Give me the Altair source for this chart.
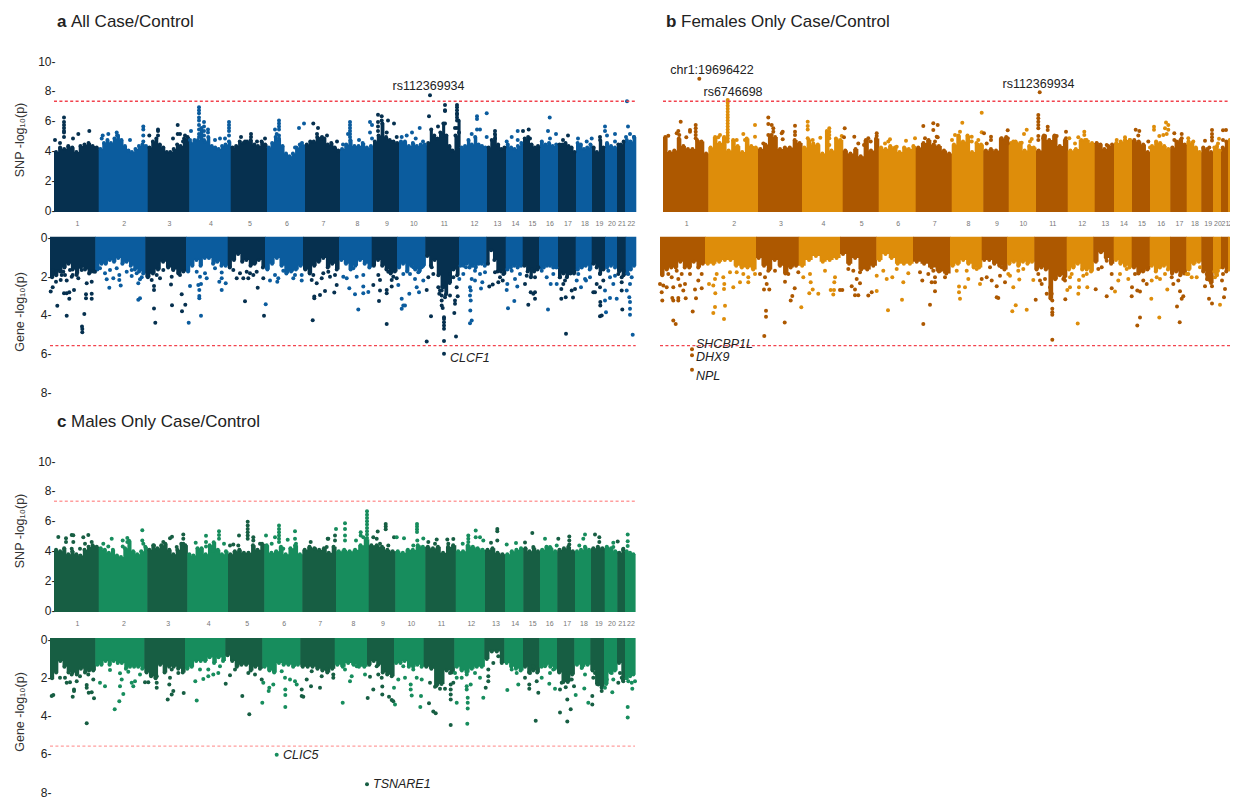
import altair as alt
import numpy as np
import pandas as pd

FONT = "Liberation Sans"
CHROMS = [str(i) for i in range(1, 23)]

# ---------------- chromosome boundaries (cumulative genome position)
A_SNP_BOUNDS = [0,44.7,93.7,135.3,176.7,213,251,286,319,345,372.7,406,433,452,469,486,504,522,538,551,563,571,581.7]
A_GENE_BOUNDS = [0,45.3,95.3,136,177.7,215,253,289,321.7,347,375.3,409,436.3,455.7,472.7,489,508,525.7,541.7,555,567,575.7,585.7]
B_SNP_BOUNDS = [0,45.3,95,139,179.7,215.7,252.7,288.7,320.3,345.7,373,404.7,431.7,451,469,487,507.3,523.7,538.3,550,558,565,572]
B_GENE_BOUNDS = [0,45,96,138.7,180,216.3,253,290,321.7,347,374.3,406.7,433.3,453.7,471.7,489.7,510,526.3,541.3,553,561,568,575]
C_SNP_BOUNDS = [0,44.7,93.3,133.3,174,210.3,248.3,282,314.7,341.3,371.3,401.7,431,451,469.3,486,503.3,521,537,550.7,563.3,571,581]
C_GENE_BOUNDS = [0,45.3,94.3,135,175.3,212.3,250.3,284.7,317,344,373.7,404.3,434.3,454.3,473,489.3,507,524.3,540.3,554,567,575,585]

# ---------------- dense cloud edge per chromosome (-log10 p)
A_SNP_EDGE = [[3.9,4.2,4.1,4.3,4.2,3.9,4.3,4.4,4.5,4.3,4.2],[4.1,4.5,4.7,4.5,4.8,5.0,4.7,4.3,4.0,3.9,4.1,4.3,4.4,4.3],
 [4.2,4.6,4.8,4.4,4.2,3.9,3.9,4.1,4.4,4.3,4.8,4.9],[4.5,4.7,4.7,5.5,4.6,4.9,4.3,4.2,4.1,4.3,4.4,4.6],
 [4.2,4.3,4.6,4.5,4.6,4.7,4.4,4.3,4.6,4.4],[4.2,4.5,4.9,4.7,4.3,3.8,3.6,3.8,4.2,4.4,4.3],
 [4.4,4.6,4.6,4.9,4.8,4.8,4.4,4.5,4.2,4.0],[4.1,4.4,4.7,4.3,4.3,4.5,4.2,4.3],[4.6,5.0,5.8,4.9,4.7,4.6,4.5],
 [4.6,4.6,4.3,4.5,4.3,4.4,4.4],[4.5,5.4,5.0,4.8,5.2,5.8,5.0,4.3,4.0,5.0,6.0],[4.2,4.3,4.7,4.4,4.9,4.4,4.3,4.2],
 [4.2,4.7,5.1,4.4,4.1,4.2],[4.4,4.2,4.1,4.3,4.5],[4.8,4.9,4.4,4.2,4.2],[4.6,4.4,4.5,4.3,4.4],[4.4,4.4,4.5,4.3,4.2,3.9],
 [4.5,4.4,4.1,4.2,4.4],[4.2,3.9,4.7,4.2],[4.5,4.3,4.2],[4.4,4.4,4.6],[4.7,4.6,4.9]]
A_GENE_EDGE = [[2.05,1.95,1.75,1.55,1.35,1.65,1.85,1.55,1.65,1.85,1.75],[1.65,1.35,1.35,1.15,1.25,1.05,1.35,1.25,1.45,1.65,1.75,1.85],
 [2.05,1.85,1.65,1.25,1.55,1.65,1.85,1.75],[1.75,1.45,1.15,1.45,1.05,1.05,1.35,1.25,1.45,1.45],[1.55,1.15,0.85,1.25,1.15,1.45,1.35,1.15,1.55],
 [1.65,1.35,1.05,1.45,1.85,1.75,1.65,1.45],[1.65,1.85,1.45,1.25,1.05,1.55,1.35,1.65],[1.15,1.35,1.65,1.45,1.15,1.35,1.55],[1.45,1.15,1.45,1.65,1.85,1.75],
 [1.55,1.35,1.75,1.45,1.65,1.75,1.45],[0.95,1.45,1.15,1.95,2.55,2.95,2.35,1.65,1.95],[1.45,1.45,1.35,1.55,1.45,1.55,1.35,1.35,1.45],
 [1.35,0.65,1.15,1.75,1.75,1.85],[1.65,1.55,1.45,1.55,1.45],[1.45,1.75,2.05,1.75,1.65],[1.55,1.55,1.45,1.45,1.55,1.55],[2.05,1.85,2.05,1.85,1.85],
 [1.65,1.55,1.45,1.65],[1.35,1.55,1.85,1.65],[1.55,1.45,1.55],[1.75,1.95],[1.85,1.65,1.45]]
B_SNP_EDGE = [[4.9,3.9,4.0,4.8,4.3,4.1,4.1,4.7,4.6,3.8],[4.2,4.9,4.5,4.9,4.0,4.7,4.3,3.9,4.8,4.3,4.2],
 [4.1,4.4,5.0,4.9,4.1,4.2,4.2,4.7,4.5],[4.2,4.7,4.4,4.4,3.8,5.3,4.0,4.8,4.7],[4.0,3.8,4.1,3.6,4.7,4.0,4.8],
 [4.2,4.1,4.3,4.2,3.9,4.2,4.1,4.3],[4.2,4.5,4.7,4.4,4.3,4.0,3.8],[4.4,5.0,4.6,5.0,3.9,4.5,4.4],[4.0,4.1,4.0,4.8,4.9],
 [4.5,4.6,4.5,4.0,4.3,4.2],[4.0,5.0,4.7,5.0,4.3,4.7],[4.0,4.1,4.7,4.7,4.5],[4.5,4.4,4.1,4.3,4.4],[4.5,4.6,4.7,4.7],
 [4.7,4.6,4.4,3.9],[4.3,4.6,4.5,4.3,4.1],[4.2,4.6,4.7,4.4],[4.6,4.5,4.2,3.9],[4.2,4.1,3.9],[4.2,4.3,4.0],[4.2,4.6],[4.7,4.7]]
B_GENE_EDGE = [[1.95,1.65,1.55,1.55,1.25,1.55,1.55,1.25,1.55,1.35],[1.35,1.35,1.25,1.15,1.15,1.45,1.55,1.55,1.65],[1.05,1.45,1.65,1.15,1.45,1.85,1.55,1.45],
 [1.45,1.15,0.95,1.25,1.15,1.05],[0.85,1.35,1.05,1.65,1.65,1.45],[1.15,0.85,1.05,1.35,1.35,1.35],[1.25,1.35,1.55,1.75,1.85],[1.45,1.35,1.15,1.35,1.55,1.55],
 [1.15,1.15,1.35,1.45,1.65],[1.35,1.25,1.45,1.25,1.35,1.25],[1.65,1.55,1.65,3.15,2.15,1.95,2.05],[1.65,1.55,1.35,1.65,1.65,1.75],[1.25,0.75,1.05,1.35],
 [1.15,1.35,1.45,1.55],[1.55,1.85,1.75,1.65],[1.45,1.75,1.55,1.45,1.65],[1.85,1.75,1.95,1.85],[1.65,1.35,1.25],[1.75,2.15,2.35],[1.75,1.95,1.55],[1.55,1.75],[1.65,1.65]]
C_SNP_EDGE = [[4.05,3.95,4.15,3.75,3.95,3.75,3.65,4.05,4.25,4.35,4.25],[4.15,4.05,3.85,4.05,3.65,3.55,4.15,4.65,3.95,3.75,3.95,4.25],
 [4.05,4.35,4.15,4.35,4.45,4.05,3.75,4.05,4.45,4.35],[3.75,3.65,4.15,4.15,3.75,4.35,4.55,4.05,3.75,3.95],[3.75,3.95,4.05,3.85,3.85,4.35,4.05,4.45],
 [4.35,3.85,3.95,4.25,3.75,4.15,4.35,3.75],[4.05,4.25,4.15,4.05,4.15,3.85,4.25],[3.95,4.05,3.95,4.05,4.35,4.75],[4.35,4.35,4.25,4.05,3.95],
 [3.95,3.85,4.05,4.05,4.35,4.25],[4.25,4.15,4.25,3.85,4.25,4.35],[3.95,3.95,4.35,4.25,4.15,4.05],[4.05,4.15,3.85,3.75],[3.75,3.95,4.05,4.15],
 [4.15,3.95,4.15,3.95],[4.05,4.25,4.15,3.95],[4.05,4.15,4.25,3.95],[3.95,4.05,4.25,4.05],[4.15,4.25,4.15],[4.25,4.15,3.95],[3.85,4.05],[3.95,3.85,3.75]]
C_GENE_EDGE = [[2.05,1.75,1.15,1.45,1.75,1.75,1.85,1.55,1.75,1.65,1.65],[1.35,1.35,1.15,1.35,1.15,1.25,1.25,1.55,1.45,1.45,1.45,1.55],
 [1.75,1.95,2.05,1.35,1.75,1.45,1.45,1.55,1.75],[1.55,1.45,1.15,1.15,1.15,0.95,1.25,0.95,1.15],[0.85,1.15,1.45,1.35,1.35,1.65,1.45,1.55],
 [1.45,1.65,1.75,1.25,1.35,1.35,1.45,1.35],[1.45,1.45,1.45,1.55,1.65,1.75,1.55],[1.35,1.45,1.25,1.35,1.45,1.45],[1.35,1.15,1.35,1.75,1.85,1.95],
 [1.25,1.25,1.15,1.45,1.45,1.35,1.45],[1.45,1.55,2.45,2.35,1.65,1.75],[1.45,1.65,1.75,1.55,1.45,1.45],[1.05,0.65,0.65,1.25],[1.25,1.45,1.55,1.65],
 [1.45,1.75,1.65,1.75],[1.45,1.35,1.45,1.55],[1.75,2.25,2.25,1.85],[1.35,1.45,1.35],[1.65,2.35,2.55],[2.35,1.75,1.65],[1.25,2.15],[2.05,1.95,1.85]]

# ---------------- individual variants / genes (position, -log10 p)
A_SNP_PTS = [(10,6.2),(10,5.9),(10,5.7),(10,5.5),(10,5.3),(10,5.2),(6,4.5),(1,4.7),(19,4.8),(24.3,5.1),(35.3,5.3),(10,4.9),
 (47.7,4.8),(48.7,5.0),(54.3,5.1),(62.7,5.2),(63,5.0),(76,4.7),(89.3,5.6),(89.3,5.4),(89.3,5.0),(89.3,4.6),(95.3,5.0),(52,4.4),
 (104,5.4),(104,5.3),(104,5.0),(123.7,5.7),(123.7,5.1),(126,5.1),(137,5.3),(119,4.8),(129,4.6),(131,5.0),(136,4.7),
 (145,6.9),(145,6.7),(145,6.5),(145,6.2),(145,6.0),(145,5.7),(145,5.4),(145,5.1),(145,4.9),(150,5.9),(150,5.6),(150,5.3),(150,5.0),(150,4.7),
 (154,5.4),(154,5.2),(166,4.8),(161,4.7),(175,5.9),(175,5.7),(175,5.5),(175,5.3),(175,5.0),(171,4.8),
 (187,4.9),(197,5.1),(197,4.9),(191,4.6),(211,4.8),(203,4.6),
 (225,6.0),(225,5.8),(225,5.6),(225,5.4),(221,5.4),(222.7,5.1),(225,5.0),(225,4.8),
 (245,5.5),(250,5.8),(259.3,5.8),(264,5.5),(263,5.1),(268,4.9),(273,5.0),(283,4.6),(241,4.2),(248,4.5),
 (296,5.9),(296,5.7),(296,5.5),(296,5.3),(296,5.1),(296,4.9),(294,5.1),(305,4.7),(289,4.4),
 (324,6.4),(327.7,6.3),(327.7,6.0),(324,5.9),(324,5.6),(324,5.3),(316,5.9),(318,5.7),(316,5.2),(334,6.0),(340,5.8),(332.7,5.2),(342.7,4.9),(318,4.8),
 (361.7,4.8),(352.7,5.0),(358,5.2),(365.7,5.5),(347.7,4.9),(369,4.6),
 (375,6.3),(391,7.05),(391,6.7),(391,6.65),(376,7.7),(391,5.8),(384,5.6),(387.7,5.0),(403,7.05),(403,6.9),(403,6.7),(403,6.5),(403,6.4),(403,6.2),(403,6.0),(403,5.5),(401,5.5),(405,5.2),
 (423,6.3),(423,6.1),(432.7,6.5),(423,5.4),(426,5.4),(417.7,5.1),(432.7,4.9),
 (441,5.3),(441,4.8),(452.7,4.6),(463.7,5.3),(457.7,4.9),(463.7,4.7),
 (474.7,5.4),(469,5.3),(476,4.8),(484,4.3),(495.7,6.2),(494,5.3),(496,4.8),(502,5.1),
 (514,5.0),(509,4.7),(524,4.8),(532.7,4.6),(551,5.6),(537.7,4.8),(546,4.9),(551,5.3),(553,5.0),
 (561,5.1),(561,4.6),(573,7.3),(574,5.6),(576,5.1),(572,4.9),(580,4.9)]
A_GENE_PTS = [(2.7,2.57),(0.7,2.79),(7.3,3.53),(16.7,4.05),(34.3,3.95),(32,4.6),(32.3,4.74),(32.3,4.9),(36,2.93),(36,3.14),(41.7,2.91),(41.7,3.16),
 (14,2.88),(16.7,2.88),(19.3,2.83),(24,2.71),(19.3,3.17),(6,2.28),(10.7,2.19),(15,1.93),(21.7,2.02),(28.3,2.1),(36.7,2.36),(41.7,2.28),(45,1.76),
 (20,1.67),(13.3,1.76),(6.7,1.76),(3.3,1.67),(26.7,1.93),(31.7,1.67),(40,1.76),(11.7,1.93),(16.7,2.22),(22.7,1.93),
 (59.3,2.6),(70.7,2.48),(88.3,3.22),(90,3.14),(55,1.84),(56.7,2.16),(63.3,2.1),(69.3,2.19),(69.3,1.93),(81.7,1.98),(88.3,2.36),(91.7,2.05),(90,2.16),(76.7,1.76),(66.7,1.59),(60,1.67),(86.7,1.84),(81.7,1.67),(50,1.59),
 (101.7,2.19),(104,2.5),(104,2.71),(104,3.67),(105.3,4.41),(121,2.43),(122,3.5),(131.7,2.93),(135.3,3.47),(132,3.81),(121.7,2.02),(113.3,1.67),(106.7,1.93),(123.3,1.67),(130,1.93),(110,2.1),(100,1.76),
 (138.7,4.41),(151,4.05),(140,2.5),(149.3,2.71),(149.3,3.02),(148.3,2.45),(151,2.4),(149.3,3.14),(171.7,2.71),(169.3,2.28),(171.7,2.1),(175.7,2.36),(171.7,1.81),(156.7,2.1),(155,1.84),(150,2.02),(146.7,1.76),(165,1.59),
 (195,3.29),(214,4.05),(215.7,3.45),(207.7,2.59),(186.7,2.1),(193.3,2.1),(198.3,2.1),(190,1.84),(200,1.84),(213.3,2.1),(206.7,1.76),(183.3,1.67),(196.7,1.76),(203.3,1.93),
 (220,2.22),(227.3,2.28),(228.3,2.1),(233.3,1.71),(243.3,2.1),(245,1.93),(251.7,2.22),(251.7,1.93),(225,1.93),
 (262.7,4.28),(264.3,3.05),(264.3,3.14),(270,2.97),(275,2.76),(284.3,2.84),(286.7,2.45),(261.7,2.19),(266.7,2.36),(271.7,2.1),(280,2.02),(285,1.93),(263.3,1.93),(273.3,1.84),(278.3,1.76),
 (308.3,3.72),(305,2.93),(299.3,2.62),(313.3,2.88),(313.3,2.53),(318.3,2.81),(323.3,2.45),(306.7,2.02),(296.7,2.1),(293.3,2.02),(313.3,1.93),(303.3,1.59),
 (336.7,4.48),(329,3.28),(330,2.74),(336.7,2.88),(336.7,2.71),(330,2.19),(328.3,1.93),(341.7,2.19),(348.3,2.45),(343.3,2.02),(338.3,1.76),(346.7,2.1),(341.7,2.53),
 (351.7,3.17),(355,3.52),(351.7,3.69),(353.3,3.52),(359.3,2.91),(369,2.83),(366.7,2.57),(365,2.14),(368.3,1.79),(373.3,2.22),(360,1.88),(353.3,1.88),(371.7,1.53),(363.3,1.53),
 (394,5.36),(394,4.72),(394,4.55),(394,4.38),(394,4.21),(394,4.12),(381,4.07),(376.7,5.38),(406,5.12),(394,6.02),(404.3,3.91),(392.7,3.64),(391.7,3.52),(391.7,3.26),(391.7,3.0),(391.7,2.74),(393.3,2.57),(390,2.74),(395,3.09),(400,3.0),(407.7,3.03),(405,3.26),(405,3.43),(376.7,2.71),(378.3,2.05),(383.3,1.88),(381.7,1.53),(403.3,2.05),(400,1.88),(409.3,2.14),(406.7,2.57),(388.3,2.57),(389.3,2.91),(393.3,2.33),
 (420.3,3.78),(421.7,4.29),(420,4.43),(420.7,3.26),(420,3.0),(420.7,2.74),(420,2.57),(431,2.64),(425,2.22),(432.3,2.31),(413.3,1.88),(421.7,2.14),(430,1.88),(416,1.53),(425,1.71),(435,1.79),
 (439.3,2.53),(442.7,2.43),(448.3,2.31),(456.7,2.71),(452.7,2.22),(457.3,2.4),(450,2.05),(453.3,1.88),(445,1.79),
 (458,3.66),(464.3,3.28),(467.3,2.53),(465,2.14),(461.7,1.71),(470,1.88),
 (478.3,3.47),(485,3.17),(483.3,2.91),(480.7,2.83),(485,2.83),(475,2.4),(485,2.05),(476.7,1.97),(481.7,1.62),(488.3,1.53),
 (498,3.72),(500.7,2.4),(506.7,2.4),(496.7,2.05),(503.3,1.88),(491.7,1.71),
 (516,4.98),(511.3,3.17),(515.7,3.09),(523,3.1),(511.3,2.66),(513.3,2.4),(521.7,2.74),(525,2.66),(515,2.22),(510,2.05),
 (531,2.57),(536,2.22),(535,2.14),(540,2.05),(528.3,1.88),(526.7,2.22),
 (550,4.07),(551.7,4.03),(556,3.86),(550.3,3.34),(550.3,3.52),(555,3.26),(545,2.83),(550,2.57),(555,2.74),(546.7,2.4),(553.3,2.22),(550,1.88),(543.3,2.83),
 (566.7,3.17),(560,3.12),(563.3,2.4),(560,2.05),(558.3,1.71),(565,1.97),
 (572.3,3.72),(571.7,2.74),(571.7,2.31),(571.7,2.05),(573.3,1.71),(568.3,1.88),
 (582.7,5.03),(580,4.0),(580,3.69),(580,3.34),(579.3,3.09),(576.7,2.74),(580,2.4),(581.7,2.05),(578.3,1.88)]
B_SNP_PTS = [(36.3,8.81),(17.7,5.93),(5.3,4.99),(15.3,5.3),(16.3,5.03),(23.3,4.88),(27,5.37),(27,5.26),(32.7,5.7),(32.7,5.48),(32.7,5.26),(32.7,5.03),(32.7,4.81),(13.7,5.15),
 (64.7,7.38),(64.7,7.2),(64.7,7.0),(64.7,6.8),(64.7,6.6),(64.7,6.4),(64.7,6.2),(64.7,6.0),(64.7,5.8),(64.7,5.6),(64.7,5.4),(64.7,5.2),(64.7,5.0),(64.7,4.8),(64.7,4.6),
 (92,5.7),(80.3,5.1),(82,4.7),(73.7,4.7),(57,5.03),(55.3,4.88),(52,4.59),(92,4.92),
 (105.3,6.2),(105.3,5.77),(108.7,5.7),(110.3,5.48),(110.3,5.26),(108.7,5.03),(119.7,5.26),(118.7,5.15),(119.7,4.74),(132,5.66),(132,5.26),(132,5.03),(105.3,5.03),(100.3,4.47),
 (144.7,5.93),(144.7,5.64),(144.7,5.41),(144.7,4.81),(149.7,4.7),(150.3,4.47),(157.3,4.85),(166.3,5.48),(166.3,5.26),(166.3,5.03),(166.3,4.81),(166.3,4.36),
 (178.7,4.97),(181.7,5.48),(181,4.88),(191.3,4.92),(205.3,4.81),(207.7,4.59),(213.7,5.15),(213.7,4.97),(213.7,4.47),(195.3,4.47),(201,4.36),
 (227,4.74),(225.3,4.59),(233.7,4.25),(243,4.65),(252,4.81),(222,4.47),
 (260.3,5.64),(270.3,5.82),(270.3,5.37),(274.7,5.7),(274.7,4.88),(262,4.81),(273.7,4.92),(272,4.59),
 (299.3,5.86),(318.7,6.53),(318.7,5.21),(321,5.15),(289,4.7),(292,5.03),(297,5.26),(308.7,4.92),(308.7,4.59),(315.3,4.7),
 (328,4.92),(328,4.7),(344.7,5.35),(344.7,4.81),(344.7,4.47),(338.7,4.81),(323.7,4.47),
 (363.7,5.39),(361,5.1),(368.7,4.77),(367,4.59),(358.7,4.52),(350.3,4.59),
 (376.7,7.9),(375.3,6.38),(375.3,6.15),(375.3,5.93),(375.3,5.7),(375.3,5.48),(375.3,4.97),(375.3,4.7),(384.7,5.59),(384.7,5.37),(382,4.97),(393.7,4.97),(403,5.26),(403,4.81),(380.3,4.81),(392,4.7),
 (421.3,5.26),(421.3,5.03),(415.3,4.88),(406.3,4.81),(412,4.47),(422,4.7),
 (433.7,4.47),(443.7,4.36),(435.3,4.25),(453.7,4.7),(462,4.88),(462,4.7),(467,4.7),
 (472.7,5.39),(476.3,5.3),(475.3,5.0),(485.3,4.59),(487,4.2),
 (491,5.59),(491,5.39),(503,5.88),(505.3,5.7),(502,5.48),(505.3,5.39),(500.3,5.03),(496.3,4.97),(503.7,5.1),
 (511.3,5.15),(518.7,5.1),(518.7,4.81),(511.3,4.7),(517,4.59),(525.3,4.81),(530.3,4.59),(525.3,4.47),
 (549,5.37),(549,5.1),(549,4.88),(549,4.66),(542,4.64),(546.3,4.2),(556,4.79),(555,4.47),(560,5.35),(563,5.37),(560,4.7)]
B_GENE_PTS = [(32,5.79),(32,6.1),(32,6.84),
 (13.3,4.29),(15.7,4.47),(32.7,3.83),(2.3,3.26),(12.3,3.12),(13.3,3.26),(18.3,3.12),(18.3,3.26),(25.7,3.14),(36,3.14),(35,2.69),(41.7,2.62),(3.3,2.48),(1.7,2.83),(6.7,2.57),(13.3,2.57),(18.3,2.14),(20,2.48),(25,2.4),(23.3,2.74),(8.3,1.88),(11.7,2.05),(16.7,1.71),(21.7,1.88),(30,1.88),(41.7,1.88),(38.3,2.22),(0,2.4),
 (55,3.59),(53.3,3.91),(65,3.53),(64,4.22),(55.3,2.88),(73.3,2.57),(64,2.66),(64.3,2.4),(53.3,2.48),(49,2.4),(80,2.31),(88.3,2.31),(88.3,2.05),(56.7,1.88),(63.3,2.05),(70,1.79),(83.3,1.88),(95,1.88),(55,2.14),(76.7,1.79),
 (104.3,5.1),(106,3.79),(106,4.1),(104,2.69),(109.3,2.69),(124.7,4.4),(130.7,3.26),(132.3,3.02),(134.7,2.62),(125,2.28),(106.7,2.4),(105,2.05),(108.3,1.71),(115,1.71),(128.3,1.88),(100,1.88),
 (141.3,3.6),(149.3,2.88),(152.7,2.69),(158.3,2.91),(150.7,2.31),(174.3,2.31),(170.7,2.71),(174,2.71),(173.3,2.95),(180,2.71),(182.3,2.71),(143.3,2.05),(138.3,1.79),(150,1.88),(165,1.71),(175,2.05),
 (191.7,2.52),(195,2.69),(195,2.98),(198.3,2.98),(200,2.36),(200,1.79),(193.3,1.71),(208.3,3.0),(211.7,2.83),(216.7,2.76),(216.7,1.97),(188.3,1.62),(196.7,2.14),
 (228,3.76),(242,3.22),(243.3,2.31),(232.3,2.05),(226.7,2.14),(236.7,1.62),(248.3,1.84),(223.3,1.71),
 (263.3,4.48),(270,3.47),(275,2.78),(262.3,2.22),(275,2.31),(268.3,1.88),(260,1.79),(273.3,1.71),(271.7,2.31),(275,2.05),(285,2.05),(280,1.71),
 (300,3.17),(299,2.83),(305,2.57),(299,2.53),(308.3,2.14),(320,2.4),(321.7,2.14),(306.7,1.71),(316.7,1.62),(296.7,1.71),
 (336.7,3.09),(338.3,3.12),(336.7,2.52),(326.7,2.05),(331.7,2.22),(340,1.97),(348.3,1.88),(345,2.31),(330,1.53),(341.7,1.53),
 (352.3,3.81),(355.7,3.5),(366.7,3.74),(359.3,2.17),(353.3,2.57),(350,1.97),(358.3,1.71),(363.3,1.62),(373.3,2.19),(375.7,3.22),
 (392.3,5.29),(392.3,4.0),(392.3,3.86),(392.3,3.69),(392.3,3.26),(386.7,2.91),(391.7,2.91),(380,2.22),(381.7,2.4),(378.3,1.88),(385,2.14),(390,2.57),(405.3,3.19),(403.3,2.14),(405,2.22),
 (417.7,4.45),(407.3,2.71),(410,2.57),(419,2.19),(419,2.57),(427.3,2.57),(418.3,2.91),(411.7,1.88),(423.3,1.97),(426.7,1.88),(410,2.05),
 (435.7,2.67),(446.7,3.03),(451.7,2.62),(455,2.79),(441.7,1.53),(446.7,1.19),(451.7,1.88),(438.3,1.62),
 (471.7,3.03),(472,2.57),(458.3,2.22),(468.3,2.14),(460,1.88),(466.7,1.62),
 (477.3,4.55),(480,4.14),(477.3,2.74),(480,2.79),(483.3,2.22),(475,1.88),(486.7,2.4),(483.3,1.71),
 (491.3,3.17),(499.3,4.14),(507.3,2.69),(500,2.14),(491.7,2.22),(505,1.88),(496.7,2.05),
 (519.7,4.38),(517,3.57),(520,2.78),(523.3,3.03),(521.7,3.17),(513.3,2.4),(518.3,2.22),(526.7,1.88),(511.7,2.05),
 (536.7,2.05),(531.7,2.05),(528.3,1.88),(540,1.53),
 (549,3.17),(552,3.41),(545,2.52),(552,2.52),(550,2.22),(546.7,1.88),(552,2.05),
 (560,3.47),(555,2.05),(558,1.71),(556,1.88),(564,3.09),(565,2.66),(562,2.22),(563,1.88)]
C_SNP_PTS = [(4.3,4.9),(12,4.82),(12,4.56),(17.7,5.04),(19.3,5.02),(29.3,4.89),(34.3,5.04),(19.3,4.56),(17.7,4.11),(31,4.44),(26,4.11),(37.7,4.56),
 (57.7,4.78),(73.3,4.84),(73.3,4.56),(68.7,4.67),(68.7,4.27),(88.3,5.36),(88.3,4.67),(89.3,4.44),(49.3,4.44),(54.3,4.27),
 (118,4.91),(116,4.82),(129.3,5.07),(129.3,4.78),(129.3,4.44),(100,4.33),(109.3,4.56),(122.7,4.22),
 (141.7,4.51),(152,4.98),(152,4.56),(152,4.27),(165,5.29),(165,5.04),(165,4.78),(170,4.44),(159.3,4.0),
 (193.7,5.93),(193.7,5.67),(193.7,5.44),(193.7,5.22),(193.7,5.0),(193.7,4.78),(185,5.0),(179.3,4.4),(176,4.33),(199.3,4.89),(199.3,4.67),(184.3,4.33),(206,4.44),
 (225,5.67),(225,5.44),(225,5.22),(225,5.0),(225,4.78),(225,4.56),(212,5.0),(221,4.89),(233.7,4.71),(241,5.29),(241,4.78),(242,4.44),(217.7,4.44),(229.3,4.11),
 (256.7,4.56),(273.7,4.78),(261,4.11),(282,5.44),(281,5.0),(274.3,4.78),(281,4.67),(272.7,4.22),
 (291,5.82),(291,5.44),(291,5.0),(291,4.67),(302,4.67),(306.7,5.22),(306.7,5.0),(313,6.62),(313,6.4),(313,6.18),(313,5.96),(313,5.73),(313,5.51),(313,5.29),(313,5.07),(313,4.84),(309.3,4.89),
 (331.7,5.78),(331.7,5.6),(331.7,5.42),(323.7,5.27),(319.3,4.89),(322.7,4.78),(340,4.89),(342.7,4.89),(334.3,4.33),(326,4.44),
 (363,5.78),(363,5.6),(363,5.42),(363,5.24),(350,4.82),(369.3,4.8),(363.3,4.67),(359.3,4.33),
 (382.7,4.73),(374.3,4.56),(393.3,4.73),(399.3,4.76),(381,4.44),(394.3,4.44),
 (421.7,5.33),(414.3,5.0),(414.3,4.78),(414.3,4.56),(426,4.89),(408.7,4.44),(429.3,4.67),(421.7,4.89),
 (443.3,5.44),(443.3,5.29),(443.3,4.67),(437,4.51),(452.7,4.4),(462,4.49),
 (478.3,5.16),(471,4.53),(479.3,4.22),(491,4.78),(496,4.22),
 (504.3,4.78),(502.7,4.33),(515.3,4.93),(515.3,4.67),(515.3,4.4),(531,5.07),(529.3,4.78),(525.3,4.33),
 (541,5.07),(545.3,4.89),(545.3,4.56),(559.3,4.51),(563.7,4.6),(559.3,4.22),(573.7,5.07),(573.7,4.62),(573.7,4.29),(569.3,4.11)]
C_GENE_PTS = [(226.7,6.05),(317,7.6),(3.3,2.93),(1.7,2.98),(22.7,3.02),(24,2.64),(24,2.72),(36.7,2.41),(36.7,2.55),(38.7,2.81),(41.7,2.78),(44,3.1),(36.7,4.41),(16.7,2.29),(20,2.26),(26.7,2.21),(30,1.95),(43.3,2.12),(10,2.03),(15,2.03),(21.7,1.86),(38.3,1.86),
 (64.7,3.67),(69.3,3.26),(73.3,2.88),(70,2.47),(55,2.47),(50,2.29),(71.7,2.12),(81.7,2.29),(85,2.21),(83.3,2.47),(95,2.26),(98.3,2.26),(90,1.86),(70,1.79),(78.3,1.71),(60,1.62),
 (106.7,2.55),(106.7,2.29),(117.7,3.16),(121.7,2.9),(123.3,2.72),(119.3,2.38),(120,2.03),(133.7,2.83),(106.7,1.95),(128.3,1.78),(131.7,1.43),(121.7,1.6),
 (146.7,3.21),(145.3,2.21),(175.7,2.34),(153.3,2.09),(158.3,1.95),(163.3,1.86),(168.3,1.78),(150,1.6),(158.3,1.6),(170,1.43),
 (192.3,2.98),(199.3,3.93),(212.3,3.33),(205,1.86),(198.3,1.78),(185,1.6),(191.7,1.26),(180,1.9),
 (235.3,3.55),(235.3,2.93),(235.3,2.64),(218.7,2.72),(219.3,2.55),(223.3,2.38),(211.7,2.12),(213.3,2.29),(240,2.12),(235,2.03),(245,2.21),(246.7,2.38),(231.7,1.69),
 (251.7,2.98),(253.3,3.02),(261,2.47),(270,2.55),(251.7,2.64),(256.7,2.12),(271.7,1.95),(261.7,1.69),(283.3,2.03),(283.3,1.86),(276.7,1.6),
 (292.7,3.33),(300,2.21),(301.7,1.95),(317.7,3.09),(315,1.86),(295,1.6),(306.7,1.43),(311.7,1.26),
 (323.3,2.64),(332.3,2.48),(332.3,2.9),(339,3.02),(341.7,3.19),(343.3,3.26),(345,3.43),(344,2.55),(328.3,1.86),(331.7,2.03),(320,1.98),(326.7,1.43),(333.3,1.6),(338.3,1.78),
 (361.7,2.95),(371,2.98),(370.3,3.55),(360.7,2.38),(360.7,2.64),(355,2.03),(348.3,2.12),(366.7,2.03),(371.7,2.12),(353.3,1.43),(363.3,1.6),
 (379,3.36),(383.3,3.79),(385.7,3.88),(400.7,4.5),(400.7,3.16),(400.7,2.9),(400.7,2.64),(400.7,2.38),(395,2.6),(390,2.6),(385,2.5),(380,2.29),(403.3,2.29),(405,1.78),(400,1.78),
 (417.3,4.43),(417.7,3.64),(417.7,3.33),(417.7,3.07),(416.7,2.64),(416.7,2.47),(406.7,3.33),(433.3,3.07),(435.7,2.55),(420.7,2.38),(406.7,2.03),(416.7,1.86),(430,2.03),(411.7,2.03),(425,1.78),
 (438.3,2.21),(438.3,1.95),(448.3,0.9),(438.3,1.6),(443.3,1.26),(457.3,2.67),(468.3,2.38),(461.7,1.6),(466.7,1.78),
 (485.7,4.28),(479.3,2.6),(479.3,2.38),(488.3,2.81),(475,2.03),(486.7,2.21),(480,1.78),(483.3,1.43),
 (499.3,2.34),(491.7,2.03),(500,1.78),(503.3,1.6),(495,1.43),
 (517.3,4.31),(510,3.84),(520.7,3.67),(517.3,3.16),(525.7,2.93),(515.7,2.52),(510,2.64),(505,2.6),(524,2.47),(511.7,2.29),(521.7,2.12),(518.3,1.78),
 (538.3,3.33),(542.3,3.43),(542.3,2.98),(534.3,2.59),(535,1.86),(531.7,1.52),
 (551.7,2.72),(555,2.55),(543.3,2.03),(548.3,2.38),(556.7,2.12),(545,1.78),
 (562.3,2.78),(563.3,2.12),(568.3,2.29),(561.7,1.78),(571.7,2.03),(570,1.78),(573.3,2.21),
 (577.7,4.1),(577.7,3.55),(582.3,2.6),(578.3,2.21),(581.7,2.29),(585,2.21)]

# ---------------- labelled hits (position, -log10 p, text)
A_SNP_NOTES = [(374.5,8.32,"rs112369934")]
A_GENE_NOTES = [(400,6.25,"CLCF1")]
B_SNP_NOTES = [(49,9.4,"chr1:19696422"),(70,7.92,"rs6746698"),(375.5,8.45,"rs112369934")]
B_GENE_NOTES = [(36,5.5,"SHCBP1L"),(36,6.18,"DHX9"),(36,7.16,"NPL")]
C_GENE_NOTES = [(233,6.05,"CLIC5"),(323,7.6,"TSNARE1")]

SNP_LINE = 7.3
GENE_LINE = 5.6
BLUES = ("#06304F", "#0B5C9E")
ORANGES = ("#AD5800", "#DE8D0A")
GREENS = ("#175E43", "#178D5D")
RED = "#F2434E"
PINK = "#FF9E9E"
DOT = 16


def edge_frame(bounds, edge, base, cols):
    rows = []
    for i, vals in enumerate(edge):
        xs = np.linspace(bounds[i], bounds[i + 1] + 0.6, len(vals) + 1)
        vals2 = list(vals) + [vals[-1]]
        for x, v in zip(xs, vals2):
            rows.append({"x": float(x), "y": v, "base": base, "chr": CHROMS[i], "col": cols[i % 2]})
    return pd.DataFrame(rows)


def edge_dots(bounds, edge, cols):
    rows = []
    for i, vals in enumerate(edge):
        xs = np.linspace(bounds[i], bounds[i + 1], len(vals) + 1)
        for j, v in enumerate(vals):
            rows.append({"x": float(xs[j] + xs[j + 1]) / 2, "y": v, "col": cols[i % 2]})
    return pd.DataFrame(rows)


def pts_frame(bounds, pts, cols):
    rows = []
    for x, y in pts:
        i = min(int(np.searchsorted(bounds, x, side="right")) - 1, 21)
        rows.append({"x": x, "y": y, "col": cols[i % 2]})
    return pd.DataFrame(rows)


def panel(bounds, edge, pts, notes, cols, x0, xdom_end, y0, y1, ydom, line, base, line_col,
          line_end=None, axis_labels=None, axis_px=0, chrom_y=None, italic=False):
    sx = alt.Scale(domain=[0, xdom_end], range=[x0, x0 + xdom_end], nice=False)
    sy = alt.Scale(domain=list(ydom), range=[y0, y1], nice=False)
    X = alt.X("x:Q", scale=sx, axis=None)
    if axis_labels is not None:
        yaxis = alt.Axis(orient="left", offset=-axis_px, values=axis_labels, labelExpr="datum.label + '-'",
                         ticks=False, domain=False, grid=False, labelPadding=0, labelFontSize=12,
                         labelFont=FONT, labelColor="#222222", title=None, labelOverlap=False,
                         labelBound=False, labelFlush=False)
    else:
        yaxis = None
    layers = []
    area = alt.Chart(edge_frame(bounds, edge, base, cols)).mark_area(interpolate="step-after").encode(
        x=X, y=alt.Y("y:Q", scale=sy, axis=yaxis), y2="base:Q",
        detail="chr:N", color=alt.Color("col:N", scale=None))
    layers.append(area)
    dots = pd.concat([edge_dots(bounds, edge, cols), pts_frame(bounds, pts, cols)], ignore_index=True)
    points = alt.Chart(dots).mark_circle(size=DOT, opacity=1).encode(
        x=X, y=alt.Y("y:Q", scale=sy, axis=None), color=alt.Color("col:N", scale=None))
    layers.append(points)
    end = bounds[-1] if line_end is None else line_end
    rule = alt.Chart(pd.DataFrame({"x": [0.0], "x2": [end], "y": [line]})).mark_rule(
        color=line_col, strokeWidth=1.3, strokeDash=[3, 2.4]).encode(
        x=X, x2="x2:Q", y=alt.Y("y:Q", scale=sy, axis=None))
    layers.append(rule)
    if notes:
        nf = pd.DataFrame(notes, columns=["x", "y", "t"])
        layers.append(alt.Chart(nf).mark_text(font=FONT, fontSize=12.5, color="#222222", align="center" if not italic else "left",
                                              fontStyle="italic" if italic else "normal", baseline="middle").encode(
            x=X, y=alt.Y("y:Q", scale=sy, axis=None), text="t:N"))
    if chrom_y is not None:
        mids = [(bounds[i] + bounds[i + 1]) / 2 + 1 for i in range(22)]
        cf = pd.DataFrame({"x": mids, "t": CHROMS})
        layers.append(alt.Chart(cf).mark_text(font=FONT, fontSize=7, color="#777777", align="center", baseline="middle").encode(
            x=X, y=alt.value(chrom_y), text="t:N"))
    return layers


def label(text, px, py, size=12, bold=False, angle=0, align="left", color="#222222"):
    kw = dict(font=FONT, fontSize=size, color=color, align=align, baseline="middle",
              fontWeight="bold" if bold else "normal")
    if angle:
        kw["angle"] = angle
    return alt.Chart(pd.DataFrame({"t": [text]})).mark_text(**kw).encode(
        x=alt.value(px - 8), y=alt.value(py - 8), text="t:N")


SNP_TICKS = [0, 2, 4, 6, 8, 10]
GENE_TICKS = [0, 2, 4, 6, 8]
layers = []
layers += panel(A_SNP_BOUNDS, A_SNP_EDGE, A_SNP_PTS, A_SNP_NOTES, BLUES, 46, 582, 202, 53, (0, 10), SNP_LINE, -0.13, RED,
                axis_labels=SNP_TICKS, axis_px=47, chrom_y=216)
layers += panel(A_GENE_BOUNDS, A_GENE_EDGE, A_GENE_PTS, A_GENE_NOTES, BLUES, 42, 586, 229.7, 384, (0, 8), GENE_LINE, -0.05, RED,
                axis_labels=GENE_TICKS, axis_px=43, italic=True)
layers += panel(B_SNP_BOUNDS, B_SNP_EDGE, B_SNP_PTS, B_SNP_NOTES, ORANGES, 655, 582, 202, 53, (0, 10), SNP_LINE, -0.13, RED,
                chrom_y=216, line_end=575)
layers += panel(B_GENE_BOUNDS, B_GENE_EDGE, B_GENE_PTS, B_GENE_NOTES, ORANGES, 652, 586, 229.7, 384, (0, 8), GENE_LINE, -0.05, RED,
                italic=True, line_end=578)
layers += panel(C_SNP_BOUNDS, C_SNP_EDGE, C_SNP_PTS, [], GREENS, 46, 582, 602, 453, (0, 10), SNP_LINE, -0.13, PINK,
                axis_labels=SNP_TICKS, axis_px=47, chrom_y=616)
layers += panel(C_GENE_BOUNDS, C_GENE_EDGE, C_GENE_PTS, C_GENE_NOTES, GREENS, 42, 586, 631, 784, (0, 8), GENE_LINE, -0.05, PINK,
                axis_labels=GENE_TICKS, axis_px=43, italic=True)

layers += [
    label("a", 57, 22, size=17, bold=True), label("All Case/Control", 71, 22, size=17),
    label("b", 666, 22, size=17, bold=True), label("Females Only Case/Control", 681, 22, size=17),
    label("c", 57, 422, size=17, bold=True), label("Males Only Case/Control", 71, 422, size=17),
    label("SNP -log\u2081\u2080(p)", 20, 140, size=12.5, angle=270, align="center", color="#333333"),
    label("Gene -log\u2081\u2080(p)", 20, 312, size=12.5, angle=270, align="center", color="#333333"),
    label("SNP -log\u2081\u2080(p)", 20, 531, size=12.5, angle=270, align="center", color="#333333"),
    label("Gene -log\u2081\u2080(p)", 20, 712, size=12.5, angle=270, align="center", color="#333333"),
]

chart = alt.layer(*layers).resolve_scale(x="independent", y="independent").properties(
    width=1222, height=792, padding=0, autosize=alt.AutoSizeParams(type="none"), background="white"
).configure_view(stroke=None)

chart.save("out.html", embed_options={"renderer": "svg", "actions": False})
